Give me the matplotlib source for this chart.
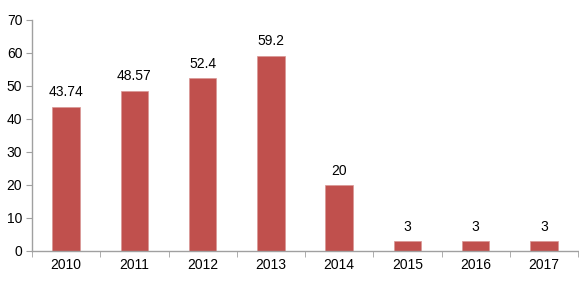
import numpy as np
import matplotlib.pyplot as plt

years = ['2010', '2011', '2012', '2013', '2014', '2015', '2016', '2017']
values = [43.74, 48.57, 52.4, 59.2, 20, 3, 3, 3]
labels = ['43.74', '48.57', '52.4', '59.2', '20', '3', '3', '3']

plt.rcParams['font.family'] = ['Liberation Sans', 'DejaVu Sans']

fig = plt.figure(figsize=(5.79, 2.81), dpi=100)
ax = fig.add_axes([0.0553, 0.107, 0.943, 0.822])

x = np.arange(len(years))
bars = ax.bar(x, values, width=0.4, color='#C0504D', edgecolor='#D99694', linewidth=0.5)
for xi, v, t in zip(x, values, labels):
    ax.text(xi, v + 2.2, t, ha='center', va='bottom', fontsize=10)

ax.set_xlim(-0.5, len(years) - 0.5)
ax.set_ylim(0, 70)
ax.set_yticks(range(0, 71, 10))
ax.set_xticks(x)
ax.set_xticklabels(years)
ax.set_xticks(np.arange(-0.5, len(years)), minor=True)
ax.tick_params(axis='x', which='major', length=0, labelsize=10, pad=5)
ax.tick_params(axis='x', which='minor', length=4, color='#A0A0A0', direction='out')
ax.tick_params(axis='y', length=4, color='#A0A0A0', labelsize=10, pad=3)

for s in ['top', 'right']:
    ax.spines[s].set_visible(False)
for s in ['left', 'bottom']:
    ax.spines[s].set_color('#A0A0A0')
    ax.spines[s].set_linewidth(1)

fig.savefig('out.png', dpi=100)
